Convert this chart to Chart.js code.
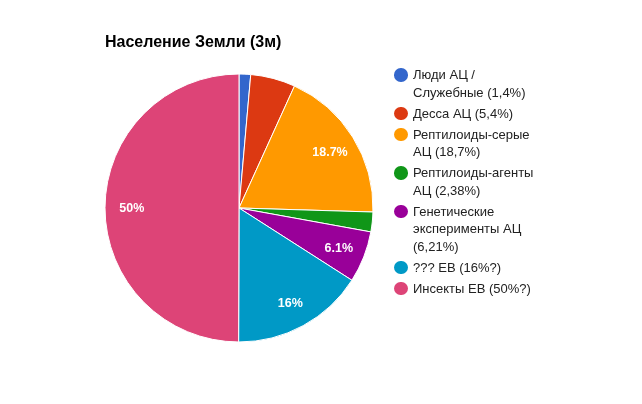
<!DOCTYPE html>
<html>
<head>
<meta charset="utf-8">
<script src="https://cdn.jsdelivr.net/npm/chart.js@4/dist/chart.umd.min.js"></script>
<style>
  html, body { margin: 0; padding: 0; background: #fff; }
  #wrap { position: relative; width: 642px; height: 404px; overflow: hidden; font-family: "Liberation Sans", Arial, sans-serif; }
  #c { position: absolute; left: 0; top: 0; }
  #title { position: absolute; left: 105px; top: 33px; font-size: 16px; font-weight: bold; color: #000; white-space: nowrap; }
  #legend { position: absolute; left: 394px; top: 66px; width: 200px; }
  .item { position: relative; padding-left: 19px; font-size: 13px; line-height: 17.5px; color: #222; margin-bottom: 3.5px; }
  .dot { position: absolute; left: 0; top: 2px; width: 13.5px; height: 13.5px; border-radius: 50%; }
</style>
</head>
<body>
<div id="wrap">
  <canvas id="c" width="642" height="404"></canvas>
  <div id="title"></div>
  <div id="legend"></div>
</div>
<script>
const chartTitle = "Население Земли (3м)";
const categories = [
  ["Люди АЦ /", "Служебные (1,4%)"],
  ["Десса АЦ (5,4%)"],
  ["Рептилоиды-серые", "АЦ (18,7%)"],
  ["Рептилоиды-агенты", "АЦ (2,38%)"],
  ["Генетические", "эксперименты АЦ", "(6,21%)"],
  ["??? ЕВ (16%?)"],
  ["Инсекты ЕВ (50%?)"]
];
const values = [1.4, 5.4, 18.7, 2.38, 6.21, 16, 50];
const sliceLabels = ["", "", "18.7%", "", "6.1%", "16%", "50%"];
const colors = ["#3366cc", "#dc3912", "#ff9900", "#109618", "#990099", "#0099c6", "#dd4477"];

document.getElementById('title').textContent = chartTitle;
const leg = document.getElementById('legend');
categories.forEach((lines, i) => {
  const it = document.createElement('div');
  it.className = 'item';
  const d = document.createElement('span');
  d.className = 'dot';
  d.style.background = colors[i];
  it.appendChild(d);
  lines.forEach((ln, k) => {
    if (k) it.appendChild(document.createElement('br'));
    it.appendChild(document.createTextNode(ln));
  });
  leg.appendChild(it);
});

const labelPlugin = {
  id: 'sliceLabels',
  afterDatasetsDraw(chart) {
    const ctx = chart.ctx;
    const meta = chart.getDatasetMeta(0);
    ctx.save();
    ctx.fillStyle = '#ffffff';
    ctx.font = 'bold 12.5px "Liberation Sans", Arial, sans-serif';
    ctx.textAlign = 'center';
    ctx.textBaseline = 'middle';
    meta.data.forEach((arc, i) => {
      const t = sliceLabels[i];
      if (!t) return;
      const p = arc.getProps(['x', 'y', 'startAngle', 'endAngle', 'outerRadius'], true);
      const a = (p.startAngle + p.endAngle) / 2;
      const r = p.outerRadius * 0.8;
      ctx.fillText(t, p.x + Math.cos(a) * r, p.y + Math.sin(a) * r + 1);
    });
    ctx.restore();
  }
};

new Chart(document.getElementById('c'), {
  type: 'pie',
  data: {
    labels: categories.map(l => l.join(' ')),
    datasets: [{
      data: values,
      backgroundColor: colors,
      borderColor: '#ffffff',
      borderWidth: 1
    }]
  },
  options: {
    responsive: false,
    animation: false,
    radius: 134,
    layout: { padding: { left: 105, right: 269, top: 74, bottom: 62 } },
    plugins: {
      legend: { display: false },
      title: { display: false },
      tooltip: { enabled: false }
    }
  },
  plugins: [labelPlugin]
});
</script>
</body>
</html>
